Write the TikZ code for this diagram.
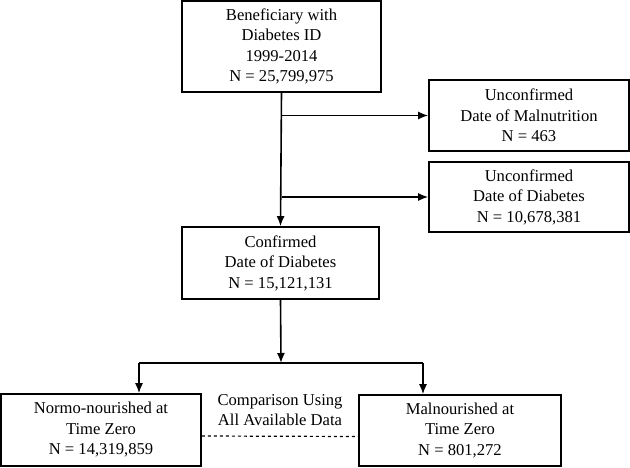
\documentclass[tikz,border=0pt]{standalone}
\usepackage{fontspec}
\setmainfont{Liberation Serif}
\usetikzlibrary{arrows.meta}
\begin{document}
\begin{tikzpicture}[x=1pt,y=-1pt,
    box/.style={draw, line width=1.6pt, align=center, minimum width=199pt, inner sep=0pt},
    flow/.style={line width=1.6pt, -{Latex[length=10pt,width=8pt]}},
    font=\fontsize{16.6}{20.5}\selectfont]
            \useasboundingbox (0,0) rectangle (630,467);
            \node[box, minimum height=91pt] (benef) at (281.5,46.5) {Beneficiary with\\Diabetes ID\\1999-2014\\N = 25,799,975};
            \node[box, minimum width=200pt, minimum height=71pt] (unmaln) at (529,115.5) {Unconfirmed\\Date of Malnutrition\\N = 463};
            \node[box, minimum width=200pt, minimum height=70pt] (undiab) at (529,197) {Unconfirmed\\Date of Diabetes\\N = 10,678,381};
            \node[box, minimum width=197pt, minimum height=72pt] (confirm) at (280.5,263) {Confirmed\\Date of Diabetes\\N = 15,121,131};
            \node[box, minimum width=200pt, minimum height=72pt] (normo) at (101,430) {Normo-nourished at\\Time Zero\\N = 14,319,859};
            \node[box, minimum width=202pt, minimum height=71pt] (malnour) at (460,430.5) {Malnourished at\\Time Zero\\N = 801,272};
            \node[align=center] (compare) at (280,410) {Comparison Using\\All Available Data};
            % branches
            \draw[flow] (benef.south) -- (confirm.north);
            \draw[flow] (benef.south |- unmaln.west) -- (unmaln.west);
            \draw[flow] (benef.south |- undiab.west) -- (undiab.west);
            \coordinate (split) at (281,363);
            \coordinate (splitl) at (139,363);
            \coordinate (splitr) at (423,363);
            \draw[flow] (confirm.south) -- (split);
            \draw[line width=1.6pt] (splitl) -- (splitr);
            \draw[flow] (splitl) -- (splitl |- normo.north);
            \draw[flow] (splitr) -- (splitr |- malnour.north);
            \draw[dashed, line width=1.2pt] ([yshift=-6pt]normo.east) -- ([yshift=-6pt]malnour.west);
        \end{tikzpicture}
\end{document}
